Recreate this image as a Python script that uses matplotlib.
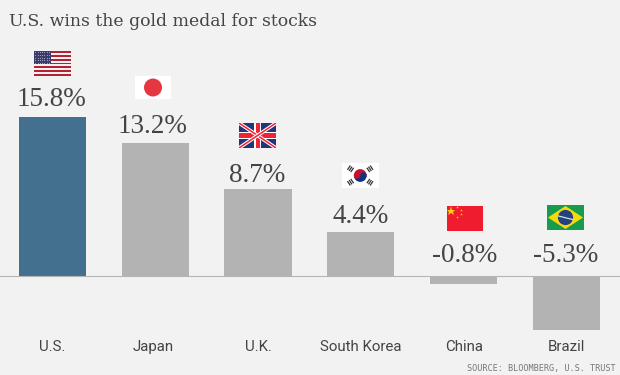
import matplotlib
matplotlib.use('Agg')
import matplotlib.pyplot as plt
from matplotlib.patches import Rectangle, Circle, Polygon, Wedge

# data
countries = ['U.S.', 'Japan', 'U.K.', 'South Korea', 'China', 'Brazil']
returns = [15.8, 13.2, 8.7, 4.4, -0.8, -5.3]
value_labels = ['15.8%', '13.2%', '8.7%', '4.4%', '-0.8%', '-5.3%']
title = 'U.S. wins the gold medal for stocks'
source = 'SOURCE: BLOOMBERG, U.S. TRUST'

BG = '#f2f2f2'
BLUE = '#44708f'
GREY = '#b3b3b3'
TEXT = '#444444'

fig = plt.figure(figsize=(6.2, 3.75), dpi=100, facecolor=BG)

# bars axes covers the whole figure, scaled so that bars land on the reference pixels
ax = fig.add_axes([0, 0, 1, 1])
ax.set_facecolor(BG)
step = 102.85
ax.set_xlim(-52.3 / step, (620 - 52.3) / step)
per_unit = 10.09
base_y = 276.3
ax.set_ylim(-(375 - base_y) / per_unit, base_y / per_unit)
ax.axis('off')

colors = [BLUE] + [GREY] * 5
ax.bar(range(6), returns, width=67.2 / step, color=colors, edgecolor='none', zorder=2)
ax.axhline(0, color='#b5b5b5', lw=0.8, zorder=3)

# overlay in pixel coordinates for flags and text
px = fig.add_axes([0, 0, 1, 1])
px.set_xlim(0, 620)
px.set_ylim(375, 0)
px.axis('off')
px.patch.set_alpha(0)


def us_flag(x, y, w, h):
    for i in range(13):
        c = '#b22234' if i % 2 == 0 else '#f5f0f0'
        px.add_patch(Rectangle((x, y + i * h / 13), w, h / 13, fc=c, ec='none'))
    px.add_patch(Rectangle((x, y), w * 0.45, h * 7 / 13, fc='#3c3b6e', ec='none'))
    for r in range(5):
        for c in range(7):
            px.plot(x + 1.2 + c * 2.3, y + 1.4 + r * 2.6, '.', ms=1.2, color='#b8b8cc', mew=0)


def japan_flag(x, y, w, h):
    px.add_patch(Rectangle((x, y), w, h, fc='white', ec='none'))
    px.add_patch(Circle((x + w / 2, y + h / 2), 9, fc='#e4373f', ec='none'))


def uk_flag(x, y, w, h):
    frame = Rectangle((x, y), w, h, fc='#26337a', ec='none')
    px.add_patch(frame)
    for a, b in [((x, y), (x + w, y + h)), ((x, y + h), (x + w, y))]:
        l1, = px.plot([a[0], b[0]], [a[1], b[1]], color='white', lw=2.6, solid_capstyle='butt')
        l2, = px.plot([a[0], b[0]], [a[1], b[1]], color='#ee2436', lw=1.1, solid_capstyle='butt')
        l1.set_clip_path(frame)
        l2.set_clip_path(frame)
    px.add_patch(Rectangle((x + w / 2 - 3.4, y), 6.8, h, fc='white', ec='none'))
    px.add_patch(Rectangle((x, y + h / 2 - 3.8), w, 7.6, fc='white', ec='none'))
    px.add_patch(Rectangle((x + w / 2 - 2, y), 4, h, fc='#ee2436', ec='none'))
    px.add_patch(Rectangle((x, y + h / 2 - 2.2), w, 4.4, fc='#ee2436', ec='none'))


def korea_flag(x, y, w, h):
    px.add_patch(Rectangle((x, y), w, h, fc='white', ec='none'))
    cx, cy = x + w / 2, y + h / 2
    px.add_patch(Wedge((cx, cy), 6.4, 180, 360, fc='#c8102e', ec='none'))
    px.add_patch(Wedge((cx, cy), 6.4, 0, 180, fc='#12337a', ec='none'))
    px.add_patch(Circle((cx - 3.2, cy), 3.2, fc='#c8102e', ec='none'))
    px.add_patch(Circle((cx + 3.2, cy), 3.2, fc='#12337a', ec='none'))
    # four trigrams, three short strokes across the line to the centre
    for dx, dy in [(-9.7, -6.7), (9.7, -6.7), (-9.7, 6.7), (9.7, 6.7)]:
        n = (dx * dx + dy * dy) ** 0.5
        ux, uy = dx / n, dy / n
        for k in (-2, 0, 2):
            ox, oy = cx + dx + k * ux, cy + dy + k * uy
            px.plot([ox - 2.6 * uy, ox + 2.6 * uy], [oy + 2.6 * ux, oy - 2.6 * ux],
                    color='#333333', lw=0.9, solid_capstyle='butt')


def china_flag(x, y, w, h):
    px.add_patch(Rectangle((x, y), w, h, fc='#ee1c2e', ec='none'))
    px.plot(x + 3.7, y + 5, '*', ms=6.5, color='#fbd116', mew=0)
    for dx, dy in [(10, 1), (13.7, 4), (13.7, 8), (10, 10.7)]:
        px.plot(x + dx, y + dy, '*', ms=2, color='#fbd116', mew=0)


def brazil_flag(x, y, w, h):
    px.add_patch(Rectangle((x, y), w, h, fc='#169b4f', ec='none'))
    px.add_patch(Polygon([(x + 1, y + h / 2), (x + w / 2, y + 1), (x + w - 1, y + h / 2), (x + w / 2, y + h - 1)],
                         fc='#f5d90a', ec='none'))
    px.add_patch(Circle((x + w / 2, y + h / 2), 7.6, fc='#24407e', ec='none'))
    px.plot([x + w / 2 - 7, x + w / 2 + 7], [y + h / 2 - 1.5, y + h / 2 + 2], color='#cfe3d8', lw=0.9)


us_flag(34, 51, 37, 25)
japan_flag(135, 76, 36, 23)
uk_flag(239, 123, 37, 25)
korea_flag(342, 163, 36.5, 25)
china_flag(447, 206, 36, 25)
brazil_flag(547, 205, 37, 25)

# value labels
label_y = [106, 133, 182, 223, 262, 262]
label_x = [51.7, 152.8, 257, 360.3, 465, 565.5]
for x, y, s in zip(label_x, label_y, value_labels):
    px.text(x, y, s, ha='center', va='baseline', fontsize=19.5, family='Liberation Serif', color=TEXT)

# category labels
name_x = [52.5, 153, 258, 360.5, 464.5, 566]
for x, s in zip(name_x, countries):
    px.text(x, 351, s, ha='center', va='baseline', fontsize=10.8, family='Roboto', color=TEXT)

px.text(9, 26, title, ha='left', va='baseline', fontsize=12.45, family='DejaVu Serif', color=TEXT)
px.text(616, 371, source, ha='right', va='baseline', fontsize=6.15, family='DejaVu Sans Mono', color='#777777')

fig.savefig('out.png', dpi=100, facecolor=BG)
